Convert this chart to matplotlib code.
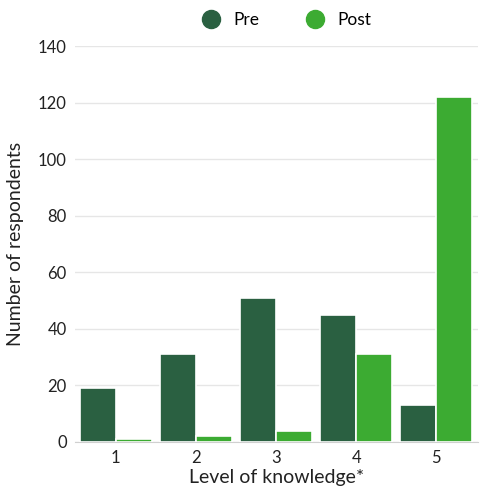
import matplotlib
matplotlib.use("Agg")
import matplotlib.pyplot as plt
import numpy as np
from matplotlib.lines import Line2D
from matplotlib.patches import FancyBboxPatch

categories = ["1", "2", "3", "4", "5"]
pre = [19, 31, 51, 45, 13]
post = [1, 2, 4, 31, 122]
series_names = ["Pre", "Post"]
colors = ["#2a6041", "#3cab32"]

plt.rcParams['font.family'] = ['Lato', 'DejaVu Sans']

fig = plt.figure(figsize=(5, 5), dpi=100)
ax = fig.add_axes([0.15, 0.116, 0.806, 0.792])

x = np.arange(len(categories))
w = 0.45
b1 = ax.bar(x - w / 2, pre, width=w, color=colors[0], edgecolor="white", linewidth=1.2, zorder=3)
b2 = ax.bar(x + w / 2, post, width=w, color=colors[1], edgecolor="white", linewidth=1.2, zorder=3)

ax.set_xlim(-0.51, 4.52)
ax.set_ylim(0, 140)
ax.set_yticks(range(0, 141, 20))
ax.set_xticks(x)
ax.set_xticklabels(categories)
ax.grid(axis="y", color="#e6e6e6", linewidth=1, zorder=0)
for s in ["top", "right", "left"]:
    ax.spines[s].set_visible(False)
ax.spines["bottom"].set_color("#d0d0d0")
ax.tick_params(axis="both", length=0, labelsize=12, colors="#222222", pad=6)
ax.set_xlabel("Level of knowledge*", fontsize=14, color="#222222", labelpad=2)
ax.set_ylabel("Number of respondents", fontsize=14, color="#222222", labelpad=10)

handles = [Line2D([0], [0], marker="o", color="none", markerfacecolor=c, markeredgecolor=c,
                  markersize=13) for c in colors]
fig.legend(handles, series_names, loc="upper center", bbox_to_anchor=(0.565, 1.008), ncol=2,
           frameon=False, fontsize=12.5, handletextpad=0.3, columnspacing=2.2)

fig.savefig("out.png", dpi=100)
